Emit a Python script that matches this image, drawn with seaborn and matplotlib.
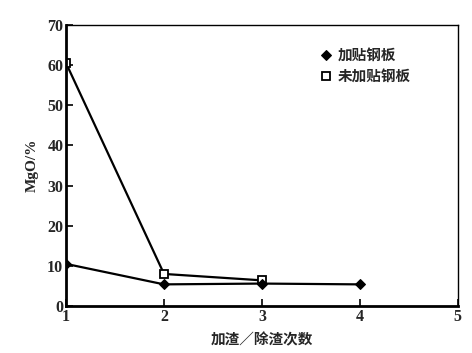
import matplotlib
matplotlib.use("Agg")
import matplotlib.pyplot as plt
import seaborn as sns
import pandas as pd

x_with = [1, 2, 3, 4]
y_with = [10.5, 5.4, 5.6, 5.4]
x_without = [1, 2, 3]
y_without = [60.5, 8.0, 6.4]
label_with = "加贴钢板"
label_without = "未加贴钢板"
xticks = [1, 2, 3, 4, 5]
yticks = [0, 10, 20, 30, 40, 50, 60, 70]

sns.set_theme(style="white")
plt.rcParams['font.family'] = ['Liberation Serif', 'Noto Sans CJK SC', 'DejaVu Sans']

fig = plt.figure(figsize=(4.72, 3.53), dpi=100)
ax = fig.add_axes([0.140, 0.133, 0.830, 0.796])

df1 = pd.DataFrame({"x": x_with, "y": y_with})
df2 = pd.DataFrame({"x": x_without, "y": y_without})
sns.lineplot(data=df1, x="x", y="y", ax=ax, color="black", linewidth=1.6,
             marker="D", markersize=5.5, markerfacecolor="black",
             markeredgecolor="black", label=label_with, zorder=3)
sns.lineplot(data=df2, x="x", y="y", ax=ax, color="black", linewidth=1.6,
             marker="s", markersize=6, markerfacecolor="white",
             markeredgecolor="black", markeredgewidth=1.3, label=label_without,
             zorder=2)

ax.set_xlim(1, 5)
ax.set_ylim(0, 70)
ax.set_xticks(xticks)
ax.set_yticks(yticks)
ax.set_xticklabels([str(t) for t in xticks], fontsize=11.5, fontweight="bold",
                   family="Liberation Serif")
ax.set_yticklabels([str(t) for t in yticks], fontsize=11.5, fontweight="bold",
                   family="Liberation Serif")
ax.tick_params(axis="both", direction="in", length=5, width=1.2, color="black",
               pad=2, left=True, bottom=True)
ax.set_xlabel("加渣／除渣次数", fontsize=10.5, fontweight="bold",
              family=["Noto Sans CJK SC", "DejaVu Sans"], labelpad=5)
ax.set_ylabel("MgO/%", fontsize=11, fontweight="bold",
              family="Liberation Serif", labelpad=6)

for side in ["left", "bottom"]:
    ax.spines[side].set_linewidth(2.0)
for side in ["top", "right"]:
    ax.spines[side].set_linewidth(1.0)
for s in ax.spines.values():
    s.set_color("black")

leg = ax.legend(loc="upper left", bbox_to_anchor=(0.62, 0.97), frameon=False,
                handlelength=0.6, handletextpad=0.5, labelspacing=0.35,
                prop={"family": ["Noto Sans CJK SC", "DejaVu Sans"], "size": 10.5, "weight": "bold"})
for h in leg.get_lines():
    h.set_linestyle("none")

fig.savefig("out.png", dpi=100)
